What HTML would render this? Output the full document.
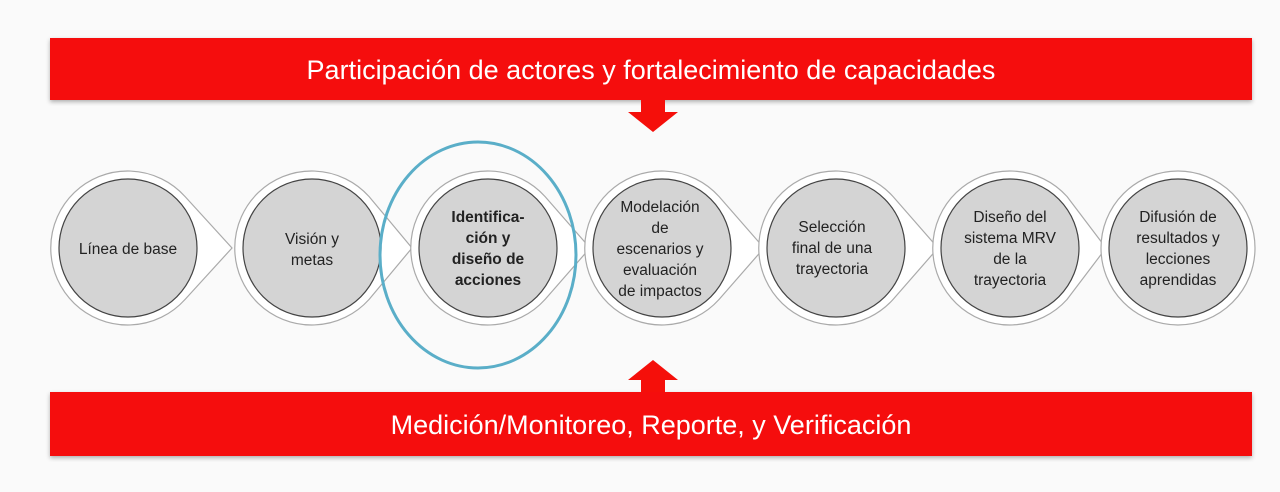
<!DOCTYPE html>
<html><head><meta charset="utf-8"><style>
body{margin:0;width:1280px;height:487px;background:#fafafa;overflow:hidden;font-family:"Liberation Sans",sans-serif}
</style></head><body>
<svg width="1280" height="487" viewBox="0 0 1280 487">
<defs><filter id="sh"><feDropShadow dx="0" dy="2" stdDeviation="2" flood-opacity="0.3"/></filter></defs>
<rect x="50" y="38" width="1202" height="62" fill="#f50f0a" filter="url(#sh)"/>
<text x="651" y="79" font-size="27" fill="#fff" text-anchor="middle">Participación de actores y fortalecimiento de capacidades</text>
<polygon points="641,100 665,100 665,112 678,112 653,132 628,112 641,112" fill="#f50f0a"/>
<rect x="50" y="392" width="1202" height="64" fill="#f50f0a" filter="url(#sh)"/>
<text x="651" y="434" font-size="27" fill="#fff" text-anchor="middle">Medición/Monitoreo, Reporte, y Verificación</text>
<polygon points="641,392 665,392 665,380 678,380 653,360 628,380 641,380" fill="#f50f0a"/>
<g stroke="#aaa" stroke-width="1.2">
<path d="M185,196.5 L232,248 L185,299.5 A77,77 0 1 1 185,196.5 Z" fill="#fff"/><circle cx="128" cy="248" r="69" fill="#d4d4d4" stroke="#444"/>
<path d="M369,196.5 L412,248 L369,299.5 A77,77 0 1 1 369,196.5 Z" fill="#fff"/><circle cx="312" cy="248" r="69" fill="#d4d4d4" stroke="#444"/>
<path d="M545,196.5 L590,248 L545,299.5 A77,77 0 1 1 545,196.5 Z" fill="#fff"/><circle cx="488" cy="248" r="69" fill="#d4d4d4" stroke="#444"/>
<path d="M719,196.5 L764,248 L719,299.5 A77,77 0 1 1 719,196.5 Z" fill="#fff"/><circle cx="662" cy="248" r="69" fill="#d4d4d4" stroke="#444"/>
<path d="M893,196.5 L938,248 L893,299.5 A77,77 0 1 1 893,196.5 Z" fill="#fff"/><circle cx="836" cy="248" r="69" fill="#d4d4d4" stroke="#444"/>
<path d="M1067,196.5 L1106,248 L1067,299.5 A77,77 0 1 1 1067,196.5 Z" fill="#fff"/><circle cx="1010" cy="248" r="69" fill="#d4d4d4" stroke="#444"/>
<circle cx="1178" cy="248" r="77" fill="#fff"/><circle cx="1178" cy="248" r="69" fill="#d4d4d4" stroke="#444"/>
</g>
<g font-size="15.5" fill="#222" text-anchor="middle">
<text x="128" y="254">Línea de base</text>
<text x="312" y="244">Visión y</text><text x="312" y="265">metas</text>
<g font-weight="bold"><text x="488" y="222">Identifica-</text><text x="488" y="243">ción  y</text><text x="488" y="264">diseño de</text><text x="488" y="285">acciones</text></g>
<text x="660" y="212">Modelación</text><text x="660" y="233">de</text><text x="660" y="254">escenarios y</text><text x="660" y="275">evaluación</text><text x="660" y="296">de impactos</text>
<text x="832" y="232">Selección</text><text x="832" y="253">final de una</text><text x="832" y="274">trayectoria</text>
<text x="1010" y="222">Diseño del</text><text x="1010" y="243">sistema MRV</text><text x="1010" y="264">de la</text><text x="1010" y="285">trayectoria</text>
<text x="1178" y="222">Difusión de</text><text x="1178" y="243">resultados y</text><text x="1178" y="264">lecciones</text><text x="1178" y="285">aprendidas</text>
</g>
<ellipse cx="478" cy="255" rx="98" ry="113" fill="none" stroke="#5aaec8" stroke-width="3"/>
</svg>
</body></html>
